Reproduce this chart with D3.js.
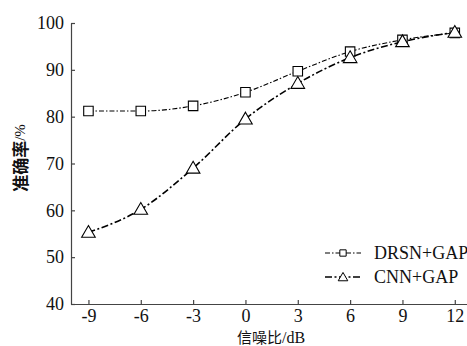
<!DOCTYPE html>
<html>
<head>
<meta charset="utf-8">
<script src="https://cdn.jsdelivr.net/npm/d3@7"></script>
<style>
  html, body { margin: 0; padding: 0; background: #fff; }
  svg { display: block; }
</style>
</head>
<body>
<div id="chart"></div>
<script>
// data
const snr = [-9, -6, -3, 0, 3, 6, 9, 12];
const drsnGap = [81.2, 81.2, 82.3, 85.2, 89.7, 93.9, 96.4, 97.9];
const cnnGap = [55.3, 60.2, 69.0, 79.5, 87.1, 92.6, 96.0, 98.0];
const yTicks = [40, 50, 60, 70, 80, 90, 100];
const seriesNames = ['DRSN+GAP', 'CNN+GAP'];

const width = 467;
const height = 346;
const margin = { top: 23, right: 0, bottom: 42, left: 71 };
const font = "'Liberation Serif', 'Times New Roman', serif";
const cjk = "'Noto Sans CJK SC', sans-serif";

const svg = d3.select('#chart').append('svg')
  .attr('width', width)
  .attr('height', height);

const x = d3.scaleLinear()
  .domain([-10, 12.7])
  .range([margin.left, width - margin.right]);

const y = d3.scaleLinear()
  .domain([40, 100])
  .range([height - margin.bottom, margin.top]);

// axes, ticks pointing inward, plain hyphen for negatives
const xAxis = svg.append('g')
  .attr('transform', `translate(0,${height - margin.bottom})`)
  .call(d3.axisBottom(x).tickValues(snr).tickFormat(d => String(d))
    .tickSizeInner(-4).tickSizeOuter(0).tickPadding(5));

const yAxis = svg.append('g')
  .attr('transform', `translate(${margin.left},0)`)
  .call(d3.axisLeft(y).tickValues(yTicks).tickFormat(d => String(d))
    .tickSizeInner(-4).tickSizeOuter(0).tickPadding(7));

[xAxis, yAxis].forEach(g => {
  g.select('.domain').attr('stroke', '#444').attr('stroke-width', 1.2);
  g.selectAll('.tick line').attr('stroke', '#444').attr('stroke-width', 1.2);
  g.selectAll('.tick text')
    .attr('fill', '#111')
    .style('font-family', font)
    .style('font-size', '18px');
});

// axis titles
svg.append('text')
  .attr('transform', `translate(22,158) rotate(-90)`)
  .attr('text-anchor', 'middle')
  .attr('dominant-baseline', 'middle')
  .style('fill', '#111')
  .html(`<tspan style="font-family:${cjk};font-weight:bold;font-size:17px">准确率</tspan><tspan style="font-family:${font};font-size:15px">/%</tspan>`);

svg.append('text')
  .attr('x', 271)
  .attr('y', 343)
  .attr('text-anchor', 'middle')
  .style('fill', '#111')
  .html(`<tspan style="font-family:${cjk};font-size:15px">信噪比</tspan><tspan style="font-family:${font};font-size:16px">/dB</tspan>`);

const line = d3.line()
  .x(d => x(d[0]))
  .y(d => y(d[1]))
  .curve(d3.curveMonotoneX);

const series = [
  { name: seriesNames[0], values: drsnGap, dash: '5,2,1.5,2', width: 1.1, marker: 'square' },
  { name: seriesNames[1], values: cnnGap, dash: '7,2.5,2,2.5', width: 1.6, marker: 'triangle' }
];

const sym = {
  square: d3.symbol().type(d3.symbolSquare).size(90),
  triangle: d3.symbol().type(d3.symbolTriangle).size(80)
};

series.forEach(s => {
  const pts = snr.map((v, i) => [v, s.values[i]]);
  svg.append('path')
    .datum(pts)
    .attr('fill', 'none')
    .attr('stroke', '#000')
    .attr('stroke-width', s.width)
    .attr('stroke-dasharray', s.dash)
    .attr('d', line);

  svg.append('g').selectAll('path')
    .data(pts)
    .join('path')
    .attr('transform', d => `translate(${x(d[0])},${y(d[1]) + (s.marker === 'triangle' ? 1 : 0)})`)
    .attr('d', sym[s.marker]())
    .attr('fill', '#fff')
    .attr('stroke', '#000')
    .attr('stroke-width', 1.1);
});

// legend
const legend = svg.append('g').attr('transform', 'translate(325,253)');
series.forEach((s, i) => {
  const row = legend.append('g').attr('transform', `translate(0,${i * 24})`);
  row.append('line')
    .attr('x1', 0).attr('x2', 36)
    .attr('stroke', '#000')
    .attr('stroke-width', s.width)
    .attr('stroke-dasharray', s.dash);
  row.append('path')
    .attr('transform', `translate(18,${s.marker === 'triangle' ? 1 : 0})`)
    .attr('d', sym[s.marker].size(40)())
    .attr('fill', '#fff')
    .attr('stroke', '#000')
    .attr('stroke-width', 1);
  row.append('text')
    .attr('x', 49)
    .attr('y', 0)
    .attr('dominant-baseline', 'central')
    .style('font-family', font)
    .style('font-size', '18px')
    .style('fill', '#111')
    .text(s.name);
});
</script>
</body>
</html>
